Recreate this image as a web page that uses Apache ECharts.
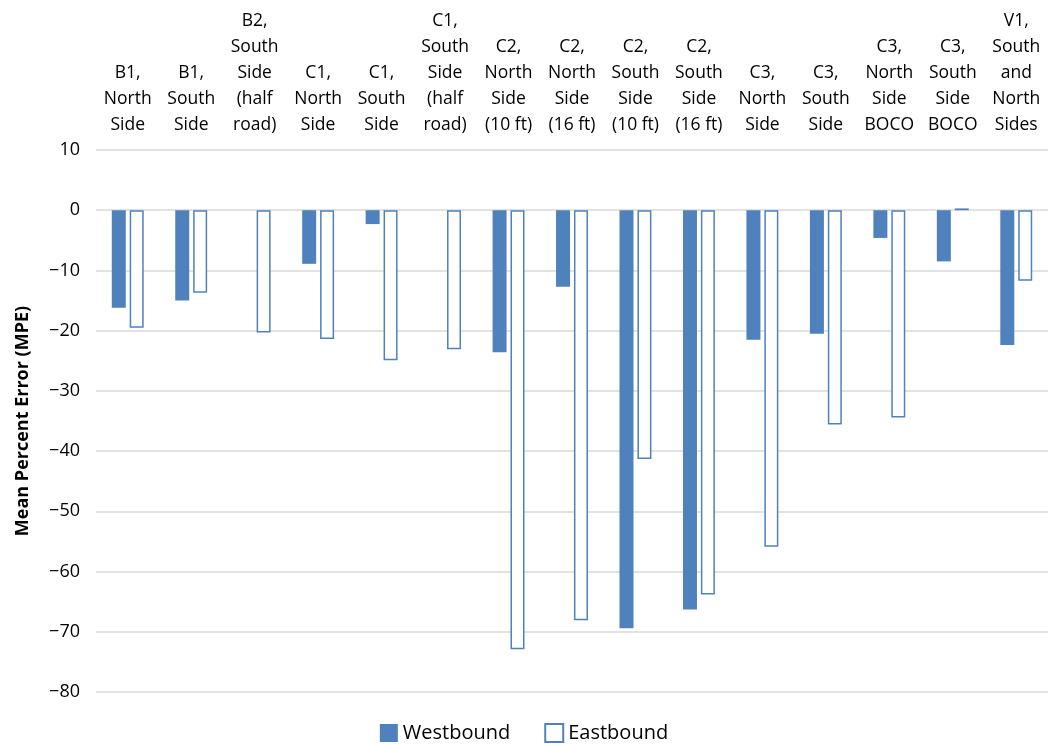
<!DOCTYPE html>
<html>
<head>
<meta charset="utf-8">
<script src="https://cdn.jsdelivr.net/npm/echarts@6/dist/echarts.min.js"></script>
<style>html,body{margin:0;padding:0;background:#fff}#c{width:1048px;height:745px}</style>
</head>
<body>
<div id="c"></div>
<script>
const categories = [
  "B1,\nNorth\nSide", "B1,\nSouth\nSide", "B2,\nSouth\nSide\n(half\nroad)",
  "C1,\nNorth\nSide", "C1,\nSouth\nSide", "C1,\nSouth\nSide\n(half\nroad)",
  "C2,\nNorth\nSide\n(10 ft)", "C2,\nNorth\nSide\n(16 ft)", "C2,\nSouth\nSide\n(10 ft)",
  "C2,\nSouth\nSide\n(16 ft)", "C3,\nNorth\nSide", "C3,\nSouth\nSide",
  "C3,\nNorth\nSide\nBOCO", "C3,\nSouth\nSide\nBOCO", "V1,\nSouth\nand\nNorth\nSides"
];
const westbound = [-16.2, -15.0, null, -8.9, -2.3, null, -23.6, -12.7, -69.4, -66.3, -21.5, -20.5, -4.6, -8.5, -22.4];
const eastbound = [-19.5, -13.7, -20.3, -21.4, -24.9, -23.1, -72.9, -68.1, -41.3, -63.8, -55.9, -35.6, -34.4, 0.3, -11.7];
const seriesNames = ["Westbound", "Eastbound"];

const FONT = "'Open Sans', 'Noto Sans', sans-serif";
const BLUE = "#4F81BD";
const chart = echarts.init(document.getElementById('c'), null, {renderer: 'canvas'});
chart.setOption({
  animation: false,
  textStyle: {fontFamily: FONT, color: '#000'},
  grid: {left: 96, right: 0, top: 150, bottom: 53, containLabel: false},
  legend: {
    bottom: -3, left: 'center', itemWidth: 18, itemHeight: 18, itemGap: 34,
    textStyle: {fontFamily: FONT, fontSize: 20, color: '#000'},
    data: [
      {name: seriesNames[0], icon: 'rect'},
      {name: seriesNames[1], icon: 'rect'}
    ]
  },
  xAxis: {
    type: 'category', position: 'top', data: categories,
    axisLine: {show: false}, axisTick: {show: false},
    axisLabel: {interval: 0, fontFamily: FONT, fontSize: 17.5, lineHeight: 26, color: '#000', margin: 12, align: 'center', verticalAlign: 'bottom'}
  },
  yAxis: {
    type: 'value', min: -80, max: 10, interval: 10,
    name: 'Mean Percent Error (MPE)', nameLocation: 'middle', nameGap: 64, nameRotate: 90,
    nameTextStyle: {fontFamily: FONT, fontSize: 18, fontWeight: 'bold', color: '#000'},
    axisLine: {show: false}, axisTick: {show: false},
    axisLabel: {fontFamily: FONT, fontSize: 18, color: '#000', margin: 16,
      formatter: v => (v < 0 ? '\u2212' + Math.abs(v) : String(v))},
    splitLine: {lineStyle: {color: '#d9d9d9', width: 1.5}}
  },
  series: [
    {name: seriesNames[0], type: 'bar', data: westbound, barWidth: 14, barGap: '28%',
     itemStyle: {color: BLUE}},
    {name: seriesNames[1], type: 'bar', data: eastbound, barWidth: 14,
     itemStyle: {color: '#fff', borderColor: BLUE, borderWidth: 1.5}}
  ]
});
</script>
</body>
</html>
